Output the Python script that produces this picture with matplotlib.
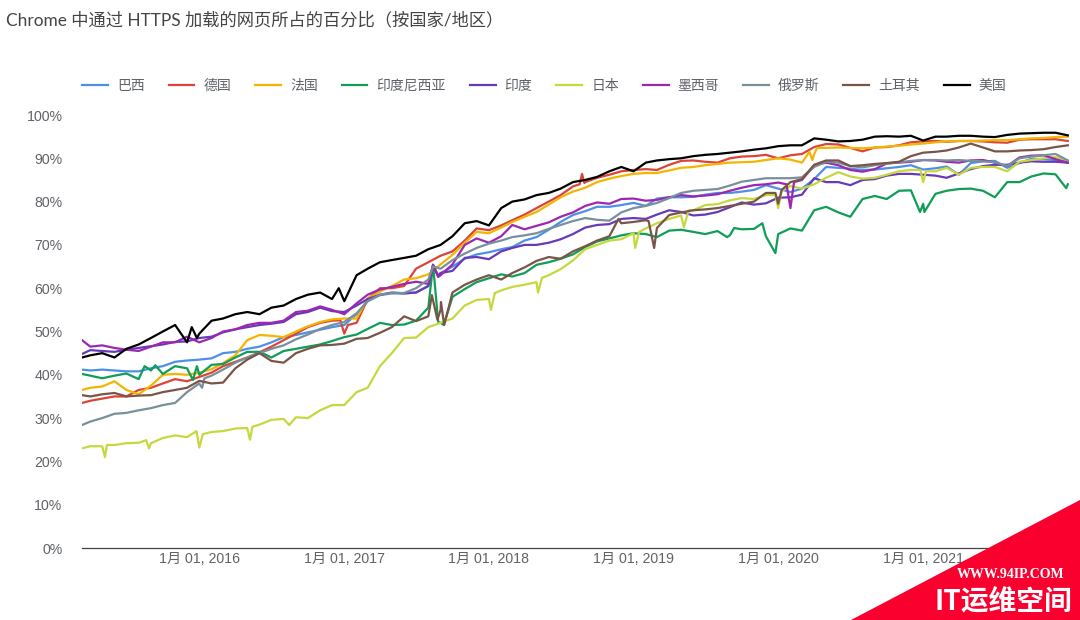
#!/usr/bin/env python3
import matplotlib
matplotlib.use("Agg")
import matplotlib.pyplot as plt
import matplotlib.dates as mdates
from matplotlib.patches import Polygon
from matplotlib.ticker import FuncFormatter
import pandas as pd

plt.rcParams['font.family'] = ['Liberation Sans', 'Noto Sans CJK SC', 'DejaVu Sans']

# first sample, then the first of every month up to 2022-01
dates = [pd.Timestamp('2015-03-11')] + list(pd.date_range('2015-04-01', '2022-01-01', freq='MS'))

names = ['巴西', '德国', '法国', '印度尼西亚', '印度', '日本', '墨西哥', '俄罗斯', '土耳其', '美国']
colors = ['#4e8fe8', '#db4437', '#f4b400', '#0f9d58', '#673ab7', '#c6d83e', '#9c27b0', '#78909c', '#795548', '#000000']
tick_years = [2016, 2017, 2018, 2019, 2020, 2021]
y_ticks = [0, 10, 20, 30, 40, 50, 60, 70, 80, 90, 100]

brazil = [41.2, 41.0, 41.2, 41.0, 40.8, 40.8, 41.5, 42.0, 43.0, 43.3,
          43.5, 43.8, 45.0, 45.3, 46.0, 46.5, 47.5, 48.7, 49.2, 49.8, 50.4, 51.0,
          51.5, 54.0, 57.0, 58.4, 58.8, 58.8, 59.0, 60.5, 63.5, 65.0, 66.8, 67.8,
          68.3, 69.0, 69.5, 71.0, 71.8, 73.5, 75.3, 76.9, 77.8, 78.8, 78.8, 79.2,
          79.7, 79.0, 80.7, 81.0, 81.0, 81.1, 81.6, 82.0, 82.0, 82.3, 82.7, 83.8,
          83.0, 82.2, 83.0, 85.2, 88.0, 87.8, 87.6, 87.3, 87.4, 87.7, 88.0, 88.4,
          87.4, 87.7, 88.1, 86.2, 88.9, 89.3, 89.4, 87.8, 88.9, 89.9, 89.8, 89.6, 89.0]
germany = [33.5, 34.0, 34.5, 35.0, 35.0, 36.5, 37.0, 38.0, 39.0, 38.5,
           39.5, 40.5, 42.0, 43.0, 44.0, 45.2, 46.5, 48.0, 49.5, 51.0, 52.0, 52.5,
           49.5, 52.0, 57.5, 60.0, 60.0, 60.5, 64.5, 66.0, 67.5, 68.5, 71.0, 73.8,
           73.4, 74.5, 75.7, 77.0, 78.5, 80.0, 81.5, 83.5, 84.5, 85.5, 86.2, 87.0,
           87.3, 87.5, 87.3, 88.5, 89.4, 89.5, 89.2, 89.0, 90.0, 90.4, 90.5, 90.8,
           90.0, 90.7, 91.0, 92.6, 93.3, 93.2, 92.4, 91.6, 92.5, 92.6, 93.0, 93.7,
           93.9, 94.0, 93.8, 94.0, 94.0, 93.9, 93.7, 93.6, 94.3, 94.4, 94.4, 94.4, 94.0]
france = [36.5, 37.0, 37.3, 38.5, 36.5, 35.5, 37.5, 40.0, 40.2, 40.0,
          40.5, 41.3, 42.7, 44.5, 48.0, 49.2, 49.0, 48.7, 50.0, 51.2, 52.2, 52.8,
          53.0, 53.0, 57.7, 59.2, 60.5, 62.0, 62.3, 63.2, 65.5, 67.7, 70.5, 73.0,
          72.7, 74.0, 75.3, 76.5, 77.6, 79.3, 81.0, 82.3, 83.2, 84.5, 85.3, 85.9,
          86.4, 86.6, 86.6, 87.2, 87.8, 88.0, 88.4, 88.7, 89.0, 89.1, 89.2, 89.6,
          90.0, 89.7, 89.0, 91.0, 92.4, 92.5, 92.4, 92.3, 92.5, 92.7, 92.9, 93.2,
          93.4, 93.7, 93.9, 94.0, 94.0, 94.1, 94.2, 94.2, 94.4, 94.6, 94.7, 94.9, 95.0]
indonesia = [40.2, 39.8, 39.2, 39.8, 40.3, 39.0, 41.0, 40.2, 42.0, 41.5,
             40.0, 42.3, 42.5, 44.0, 45.3, 45.3, 44.0, 45.5, 46.0, 46.5, 47.0, 47.8,
             48.7, 49.3, 50.6, 52.0, 51.5, 51.6, 52.5, 55.5, 52.0, 58.0, 59.8, 61.4,
             62.3, 63.2, 62.7, 63.5, 65.4, 66.0, 66.8, 67.8, 69.5, 70.8, 71.5, 72.2,
             72.7, 72.5, 71.8, 73.3, 73.5, 73.0, 72.5, 73.2, 72.2, 73.6, 73.7, 72.0,
             72.5, 73.8, 73.3, 78.0, 78.8, 77.5, 76.5, 80.6, 81.3, 80.6, 82.5, 82.6,
             79.5, 81.8, 82.5, 82.9, 83.0, 82.5, 81.0, 84.5, 84.5, 85.8, 86.5, 86.3, 84.0]
india = [44.8, 45.7, 45.5, 45.3, 45.8, 46.2, 46.6, 47.0, 47.6, 47.7,
         48.5, 48.8, 49.8, 50.5, 51.0, 51.5, 51.8, 52.2, 54.0, 54.5, 55.5, 54.7,
         54.5, 56.0, 57.5, 58.5, 59.0, 58.8, 59.0, 60.5, 63.5, 64.0, 67.0, 67.2,
         66.7, 68.5, 69.3, 70.0, 70.0, 70.5, 71.3, 72.5, 74.0, 74.6, 74.8, 76.0,
         76.2, 76.0, 77.0, 78.0, 77.6, 76.8, 77.0, 77.6, 78.7, 79.8, 79.3, 79.6,
         80.9, 81.0, 81.6, 85.4, 84.5, 84.5, 83.8, 85.0, 85.2, 86.0, 86.4, 86.4,
         86.2, 86.0, 85.5, 86.5, 87.5, 88.2, 88.5, 88.5, 89.0, 89.3, 89.2, 89.2, 89.0]
japan = [23.0, 23.5, 23.5, 23.8, 24.2, 24.3, 24.2, 25.4, 26.0, 25.6,
         23.2, 26.8, 27.0, 27.6, 27.7, 28.5, 29.6, 29.8, 30.2, 30.0, 31.8, 33.0,
         33.0, 36.0, 37.0, 42.0, 45.0, 48.5, 48.6, 51.0, 52.0, 53.0, 56.0, 57.3,
         57.5, 59.5, 60.3, 60.8, 61.4, 63.0, 64.4, 66.4, 69.0, 70.0, 71.0, 71.3,
         72.7, 73.8, 75.0, 76.0, 76.8, 78.0, 79.2, 79.4, 80.3, 80.8, 80.6, 81.5,
         78.5, 83.6, 83.0, 84.0, 85.5, 86.8, 85.8, 85.3, 85.5, 86.2, 87.0, 87.3,
         84.5, 87.0, 87.8, 86.2, 87.8, 88.0, 88.0, 87.0, 89.2, 89.6, 90.0, 90.3, 89.5]
mexico = [48.0, 46.5, 46.8, 46.2, 45.8, 45.5, 46.5, 47.5, 47.5, 48.8,
          47.5, 48.5, 50.0, 50.5, 51.5, 52.0, 52.0, 52.5, 54.5, 54.8, 55.8, 55.0,
          54.0, 56.5, 58.5, 59.7, 60.3, 61.0, 61.5, 61.0, 63.0, 65.5, 70.0, 71.5,
          70.5, 72.0, 74.6, 73.6, 74.4, 75.2, 76.5, 77.5, 79.0, 79.8, 79.5, 80.6,
          80.7, 80.2, 80.4, 81.0, 81.5, 81.2, 81.4, 81.7, 82.5, 83.2, 83.8, 84.0,
          84.4, 78.5, 85.0, 88.4, 89.0, 88.4, 87.3, 86.9, 87.5, 88.8, 89.0, 89.2,
          89.6, 89.5, 89.2, 89.0, 89.5, 89.6, 89.0, 88.2, 90.2, 90.6, 90.7, 89.8, 89.0]
russia = [28.4, 29.2, 30.0, 31.0, 31.2, 31.8, 32.3, 33.0, 33.5, 36.0,
          38.0, 39.8, 41.2, 42.8, 44.0, 45.0, 46.0, 46.8, 48.2, 49.3, 50.6, 51.5,
          52.2, 54.2, 57.0, 58.5, 58.9, 58.9, 60.0, 62.0, 64.5, 66.5, 68.0, 69.3,
          70.3, 71.0, 71.8, 72.2, 72.7, 73.7, 74.6, 75.5, 76.2, 75.8, 75.6, 77.5,
          78.5, 79.0, 79.7, 80.8, 82.0, 82.5, 82.7, 82.9, 83.7, 84.6, 85.0, 85.4,
          85.4, 85.4, 85.6, 88.0, 89.2, 89.0, 88.2, 87.9, 88.4, 88.8, 89.1, 89.4,
          89.6, 89.6, 89.5, 89.6, 89.4, 89.3, 89.1, 88.2, 90.0, 90.4, 90.7, 91.0, 89.5]
turkey = [35.3, 35.0, 35.5, 35.8, 35.0, 35.2, 35.3, 36.0, 36.5, 37.0,
          38.6, 38.0, 38.2, 41.5, 43.5, 45.0, 43.2, 42.8, 45.0, 46.0, 46.8, 46.9,
          47.2, 48.3, 48.5, 49.7, 51.0, 53.5, 52.4, 53.5, 55.0, 59.0, 60.8, 62.0,
          63.0, 62.0, 63.5, 64.8, 66.3, 67.2, 66.8, 68.5, 69.7, 71.0, 72.0, 75.0,
          75.3, 75.7, 73.9, 76.9, 77.5, 78.0, 78.2, 78.5, 79.0, 79.5, 80.0, 82.0,
          79.5, 84.5, 85.2, 88.5, 89.5, 89.5, 88.2, 88.4, 88.7, 88.9, 89.2, 90.5,
          91.3, 91.5, 91.8, 92.5, 93.4, 92.5, 91.6, 91.6, 91.8, 91.9, 92.1, 92.6, 93.0]
usa = [44.0, 44.5, 45.0, 44.0, 46.0, 47.0, 48.5, 50.0, 51.5, 47.5,
       49.5, 52.5, 53.0, 54.0, 54.5, 54.0, 55.5, 56.0, 57.5, 58.5, 59.0, 57.5,
       57.0, 63.0, 64.5, 66.0, 66.5, 67.0, 67.5, 69.0, 70.0, 72.0, 75.0, 75.5,
       74.5, 78.5, 80.0, 80.5, 81.5, 82.0, 83.0, 84.5, 85.0, 85.7, 87.0, 88.0,
       87.0, 89.0, 89.5, 89.8, 90.0, 90.5, 90.8, 91.0, 91.3, 91.6, 92.0, 92.3,
       92.8, 93.0, 93.0, 94.6, 94.3, 93.9, 94.0, 94.3, 95.0, 95.1, 95.0, 95.2,
       94.1, 95.0, 95.0, 95.2, 95.2, 95.0, 94.9, 95.4, 95.7, 95.8, 95.9, 95.9, 95.3]

# short spikes that fall between the monthly samples
brazil_extra = [('2017-08-13', 65.0), ('2017-08-26', 63.0)]
germany_extra = [('2016-12-22', 52.6), ('2017-01-10', 51.5), ('2018-08-18', 84.0), ('2018-08-24', 86.4), ('2018-08-30', 84.3)]
france_extra = [('2020-03-20', 91.5), ('2020-03-27', 89.6), ('2020-04-08', 92.4)]
indonesia_extra = [('2015-08-16', 42.0), ('2015-09-12', 42.2), ('2015-12-16', 38.8), ('2015-12-26', 42.0),
                   ('2017-08-13', 65.4), ('2017-08-26', 52.2), ('2017-09-09', 51.5),
                   ('2019-08-25', 71.8), ('2019-09-12', 73.9),
                   ('2019-11-22', 75.0), ('2019-12-25', 68.1),
                   ('2020-12-24', 77.6), ('2021-01-04', 77.6), ('2021-12-28', 83.1)]
india_extra = [('2017-08-13', 65.4), ('2017-08-26', 62.7)]
japan_extra = [('2015-05-08', 21.0), ('2015-05-13', 23.8), ('2015-08-20', 24.9), ('2015-08-27', 23.0),
               ('2015-12-25', 27.0), ('2016-01-10', 26.3), ('2016-05-08', 25.0), ('2016-05-14', 28.0),
               ('2016-08-15', 28.4), ('2018-01-06', 55.0), ('2018-01-16', 58.9),
               ('2018-05-05', 59.0), ('2018-05-15', 62.4), ('2019-01-05', 69.3), ('2019-01-15', 73.0),
               ('2019-05-08', 74.1), ('2019-05-20', 78.0), ('2019-12-25', 81.5), ('2020-01-10', 82.5),
               ('2020-12-25', 87.3), ('2021-01-08', 87.0)]
mexico_extra = [('2017-08-13', 65.4), ('2017-08-26', 62.6), ('2020-01-22', 84.0), ('2020-02-10', 84.5)]
russia_extra = [('2016-01-08', 37.0), ('2016-01-14', 39.2), ('2017-08-13', 65.0)]
turkey_extra = [('2017-08-10', 58.4), ('2017-08-24', 52.7), ('2017-09-02', 56.8), ('2017-09-10', 51.5),
                ('2018-11-24', 76.0), ('2019-02-08', 75.5), ('2019-02-22', 69.3),
                ('2019-12-25', 82.0), ('2020-01-10', 82.7)]
usa_extra = [('2015-12-13', 51.0), ('2015-12-26', 48.5), ('2016-12-18', 60.0)]

series = [brazil, germany, france, indonesia, india, japan, mexico, russia, turkey, usa]
extras = [brazil_extra, germany_extra, france_extra, indonesia_extra, india_extra, japan_extra,
          mexico_extra, russia_extra, turkey_extra, usa_extra]

W, H = 1080, 620
fig = plt.figure(figsize=(W / 100, H / 100), dpi=100)
ax = fig.add_axes([82 / W, (H - 548) / H, 987 / W, 433 / H])

for name, color, vals, extra in zip(names, colors, series, extras):
    s = pd.Series(vals, index=dates)
    e = pd.Series([v for d, v in extra], index=[pd.Timestamp(d) for d, v in extra], dtype=float)
    s = pd.concat([s, e]).sort_index()
    ax.plot(s.index, s.values, color=color, lw=1.6, label=name, solid_joinstyle='round')

ax.set_ylim(0, 100)
ax.set_xlim(pd.Timestamp('2015-03-11'), pd.Timestamp('2022-01-04'))
ax.set_yticks(y_ticks)
ax.yaxis.set_major_formatter(FuncFormatter(lambda v, p: '%d%%' % v))
ax.set_xticks([pd.Timestamp(year=y, month=1, day=1) for y in tick_years])
ax.xaxis.set_major_formatter(mdates.DateFormatter('%-m月 %d, %Y'))
ax.tick_params(axis='both', length=0, labelsize=10.2, labelcolor='#5f6368')
ax.tick_params(axis='y', pad=14)
ax.tick_params(axis='x', pad=3)
for side in ['top', 'right', 'left']:
    ax.spines[side].set_visible(False)
ax.spines['bottom'].set_color('#444444')
ax.spines['bottom'].set_linewidth(0.9)

leg = ax.legend(loc='upper left', bbox_to_anchor=(0, 1 + 36 / 433), ncol=10, frameon=False,
                fontsize=10, borderpad=0, borderaxespad=0, handlelength=1.87, handletextpad=0.65,
                columnspacing=1.71)
for t in leg.get_texts():
    t.set_color('#5f6368')
for line in leg.get_lines():
    line.set_linewidth(1.6)

fig.text(6 / W, 1 - 20 / H, 'Chrome 中通过 HTTPS 加载的网页所占的百分比（按国家/地区）', fontsize=12.45,
         color='#444444', va='center', ha='left', family=['Lato', 'Noto Sans CJK SC', 'DejaVu Sans'])

# watermark corner
fig.add_artist(Polygon([(851 / W, 0), (1, 0), (1, 120 / H)], closed=True, transform=fig.transFigure,
                       facecolor='#f9002f', edgecolor='none', zorder=10))
fig.text(1011 / W, 1 - 575 / H, 'WWW.94IP.COM', fontsize=10, color='white', weight='bold',
         family=['Liberation Serif'], ha='center', va='center', zorder=11)
fig.text(1003 / W, 1 - 601 / H, 'IT运维空间', fontsize=20, color='white', weight='bold',
         family=['Noto Sans CJK SC', 'DejaVu Sans'], ha='center', va='center', zorder=11)

fig.savefig('out.png', dpi=100)
